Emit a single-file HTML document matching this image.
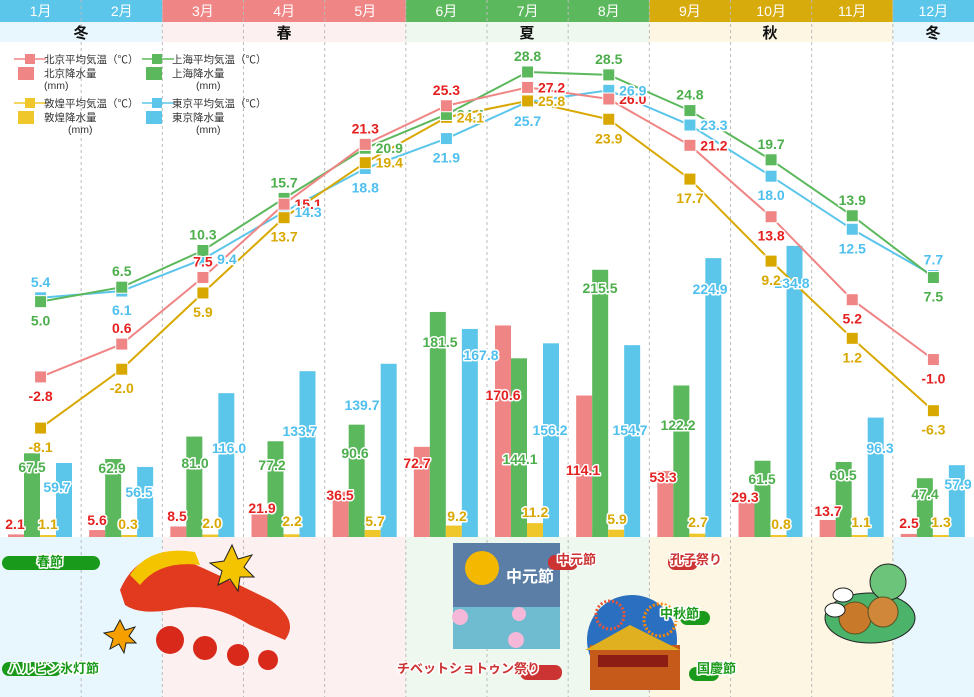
<!DOCTYPE html>
<html><head><meta charset="utf-8">
<style>
html,body{margin:0;padding:0;background:#fff;}
svg{display:block;font-family:"Liberation Sans","Noto Sans CJK JP",sans-serif;}
.t{font-weight:bold;font-size:14px;paint-order:stroke;stroke:#fff;stroke-width:3px;stroke-linejoin:round;text-anchor:middle;}
.lg{font-size:10.5px;fill:#333;}
.mh{font-size:14px;fill:#fff;text-anchor:middle;}
.se{font-size:15px;font-weight:bold;fill:#111;text-anchor:middle;}
.ev{font-size:13px;font-weight:bold;paint-order:stroke;stroke:#fff;stroke-width:3px;stroke-linejoin:round;}
</style></head>
<body>
<svg id="c" width="974" height="697" viewBox="0 0 974 697" xmlns="http://www.w3.org/2000/svg">
<!-- header -->
<rect x="0" y="0" width="162.3" height="22" fill="#5bc5ea"/>
<rect x="162.3" y="0" width="243.5" height="22" fill="#f08585"/>
<rect x="405.8" y="0" width="243.5" height="22" fill="#5cb85c"/>
<rect x="649.3" y="0" width="243.5" height="22" fill="#d8ab0c"/>
<rect x="892.8" y="0" width="81.2" height="22" fill="#5bc5ea"/>
<rect x="0" y="22" width="162.3" height="20" fill="#e8f7fd"/>
<rect x="162.3" y="22" width="243.5" height="20" fill="#fdf0f0"/>
<rect x="405.8" y="22" width="243.5" height="20" fill="#eef8ee"/>
<rect x="649.3" y="22" width="243.5" height="20" fill="#fdf6e2"/>
<rect x="892.8" y="22" width="81.2" height="20" fill="#e8f7fd"/>
<!-- bottom -->
<rect x="0" y="537" width="162.3" height="160" fill="#e8f7fd"/>
<rect x="162.3" y="537" width="243.5" height="160" fill="#fdf0f0"/>
<rect x="405.8" y="537" width="243.5" height="160" fill="#eef8ee"/>
<rect x="649.3" y="537" width="243.5" height="160" fill="#fdf6e2"/>
<rect x="892.8" y="537" width="81.2" height="160" fill="#e8f7fd"/>
<g id="grid"></g>
<text class="mh" x="40.6" y="16">1月</text><text class="mh" x="121.8" y="16">2月</text>
<text class="mh" x="202.9" y="16">3月</text><text class="mh" x="284.1" y="16">4月</text>
<text class="mh" x="365.3" y="16">5月</text><text class="mh" x="446.4" y="16">6月</text>
<text class="mh" x="527.6" y="16">7月</text><text class="mh" x="608.8" y="16">8月</text>
<text class="mh" x="689.9" y="16">9月</text><text class="mh" x="771.1" y="16">10月</text>
<text class="mh" x="852.3" y="16">11月</text><text class="mh" x="933.4" y="16">12月</text>
<text class="se" x="81" y="38">冬</text><text class="se" x="284" y="38">春</text>
<text class="se" x="527" y="38">夏</text><text class="se" x="770" y="38">秋</text>
<text class="se" x="933" y="38">冬</text>
<!-- legend -->
<g>
<line x1="14" y1="59" x2="46" y2="59" stroke="#f08585" stroke-width="1.5"/><rect x="25" y="54" width="10" height="10" fill="#f08585"/>
<text class="lg" x="44" y="63">北京平均気温（℃）</text>
<rect x="18" y="67" width="16" height="13" fill="#f08585"/>
<text class="lg" x="44" y="77">北京降水量</text><text class="lg" x="44" y="89">(mm)</text>
<line x1="142" y1="59" x2="174" y2="59" stroke="#5cb85c" stroke-width="1.5"/><rect x="152" y="54" width="10" height="10" fill="#5cb85c"/>
<text class="lg" x="172" y="63">上海平均気温（℃）</text>
<rect x="146" y="67" width="16" height="13" fill="#5cb85c"/>
<text class="lg" x="172" y="77">上海降水量</text><text class="lg" x="196" y="89">(mm)</text>
<line x1="14" y1="103" x2="46" y2="103" stroke="#f0c72a" stroke-width="1.5"/><rect x="25" y="98" width="10" height="10" fill="#f0c72a"/>
<text class="lg" x="44" y="107">敦煌平均気温（℃）</text>
<rect x="18" y="111" width="16" height="13" fill="#f0c72a"/>
<text class="lg" x="44" y="121">敦煌降水量</text><text class="lg" x="68" y="133">(mm)</text>
<line x1="142" y1="103" x2="174" y2="103" stroke="#5bc5ea" stroke-width="1.5"/><rect x="152" y="98" width="10" height="10" fill="#5bc5ea"/>
<text class="lg" x="172" y="107">東京平均気温（℃）</text>
<rect x="146" y="111" width="16" height="13" fill="#5bc5ea"/>
<text class="lg" x="172" y="121">東京降水量</text><text class="lg" x="196" y="133">(mm)</text>
</g>
<g id="bars"></g>
<g id="lines"></g>
<g id="labels"></g>
<!-- illustrations -->
<g>
<!-- dragon -->
<path d="M120 590 Q140 545 185 560 Q230 580 270 600 Q300 620 285 640 L250 625 Q210 600 170 610 Q140 615 125 605Z" fill="#e23a1e"/>
<path d="M130 575 Q150 545 195 552 L200 565 Q160 560 140 585Z" fill="#f5c400"/>
<circle cx="170" cy="640" r="14" fill="#d8291b"/><circle cx="205" cy="648" r="12" fill="#d8291b"/>
<circle cx="238" cy="655" r="11" fill="#d8291b"/><circle cx="268" cy="660" r="10" fill="#d8291b"/>
<path d="M232 545 l6 14 l14 -4 l-8 12 l10 10 l-14 0 l-2 14 l-8 -12 l-12 6 l4 -14 l-12 -8 l14 -2z" fill="#f5c400" stroke="#222"/>
<path d="M120 620 l5 10 l10 -3 l-6 9 l7 7 l-10 0 l-2 10 l-5 -9 l-9 5 l3 -10 l-9 -6 l10 -2z" fill="#f5a000" stroke="#222"/>
<!-- moon poster -->
<rect x="453" y="543" width="107" height="72" fill="#5a7ea6"/>
<rect x="453" y="607" width="107" height="42" fill="#6fbcd0"/>
<circle cx="482" cy="568" r="17" fill="#f5b800"/>
<text x="530" y="582" fill="#fff" font-size="16" font-weight="bold" text-anchor="middle">中元節</text>
<circle cx="460" cy="617" r="8" fill="#f6b8d8"/><circle cx="516" cy="640" r="8" fill="#f6b8d8"/><circle cx="519" cy="614" r="7" fill="#f6b8d8"/>
<!-- tiananmen -->
<circle cx="632" cy="640" r="45" fill="#2b6fc0"/>
<rect x="590" y="645" width="90" height="45" fill="#c65a1a"/>
<path d="M585 650 L630 625 L680 650Z" fill="#e0b020"/>
<rect x="598" y="655" width="70" height="12" fill="#8b1d14"/>
<circle cx="610" cy="615" r="14" fill="none" stroke="#e53" stroke-width="3" stroke-dasharray="2 2"/>
<circle cx="660" cy="620" r="16" fill="none" stroke="#f80" stroke-width="3" stroke-dasharray="2 2"/>
<!-- teapot -->
<ellipse cx="870" cy="618" rx="45" ry="25" fill="#4bb36a" stroke="#222"/>
<circle cx="888" cy="582" r="18" fill="#6cc47a" stroke="#222"/>
<circle cx="855" cy="618" r="16" fill="#c8792a" stroke="#552"/>
<circle cx="883" cy="612" r="15" fill="#d0873a" stroke="#552"/>
<ellipse cx="843" cy="595" rx="10" ry="7" fill="#fff" stroke="#222"/>
<ellipse cx="835" cy="610" rx="10" ry="7" fill="#fff" stroke="#222"/>
<!-- event labels -->
<rect x="2" y="556" width="98" height="14" rx="7" fill="#1a9a1a"/><text class="ev" x="37" y="566" fill="#1a9a1a">春節</text>
<rect x="2" y="662" width="60" height="14" rx="7" fill="#1a9a1a"/><text class="ev" x="8" y="673" fill="#1a9a1a">ハルビン氷灯節</text>
<rect x="520" y="665" width="42" height="15" rx="7" fill="#cc3333"/><text class="ev" x="397" y="673" fill="#cc3333">チベットショトゥン祭り</text>
<rect x="548" y="555" width="30" height="15" rx="7" fill="#cc3333"/><text class="ev" x="557" y="564" fill="#cc3333">中元節</text>
<rect x="668" y="555" width="30" height="15" rx="7" fill="#cc3333"/><text class="ev" x="670" y="564" fill="#cc3333">孔子祭り</text>
<rect x="680" y="611" width="30" height="14" rx="7" fill="#1a9a1a"/><text class="ev" x="660" y="618" fill="#1a9a1a">中秋節</text>
<rect x="689" y="667" width="30" height="14" rx="7" fill="#1a9a1a"/><text class="ev" x="697" y="673" fill="#1a9a1a">国慶節</text>
</g>
</svg>
<script>
(function(){
var NS="http://www.w3.org/2000/svg",W=974/12;
function el(p,n,a,t){var e=document.createElementNS(NS,n);for(var k in a)e.setAttribute(k,a[k]);if(t!=null)e.textContent=t;document.getElementById(p).appendChild(e);return e;}
for(var i=1;i<12;i++){el("grid","line",{x1:W*i,y1:0,x2:W*i,y2:697,stroke:"#bbb","stroke-width":1,"stroke-dasharray":"3 3"});}
var cols=["#f08585","#5cb85c","#f0c72a","#5bc5ea"];
var tcol=["#e52020","#4cae4c","#d9a800","#4fc0ee"];
var lcol=["#f08585","#5cb85c","#d9a800","#5bc5ea"];
var P=[["2.1","5.6","8.5","21.9","36.5","72.7","170.6","114.1","53.3","29.3","13.7","2.5"],
["67.5","62.9","81.0","77.2","90.6","181.5","144.1","215.5","122.2","61.5","60.5","47.4"],
["1.1","0.3","2.0","2.2","5.7","9.2","11.2","5.9","2.7","0.8","1.1","1.3"],
["59.7","56.5","116.0","133.7","139.7","167.8","156.2","154.7","224.9","234.8","96.3","57.9"]];
var PL=[[[15,524],[97,520],[177,516],[262,508],[340,495],[417,463],[503,395],[583,470],[663,477],[745,497],[828,511],[909,523]],
[[32,467],[112,468],[195,463],[272,465],[355,453],[440,342],[520,459],[600,288],[678,425],[762,479],[843,475],[925,494]],
[[48,524],[128,524],[212,523],[292,521],[375,521],[457,516],[535,512],[617,519],[698,522],[781,524],[861,522],[941,522]],
[[57,487],[139,492],[229,448],[300,431],[362,405],[481,355],[550,430],[630,430],[710,289],[792,283],[880,448],[958,484]]];
// colored stripe at bottom of chart
for(var i=0;i<12;i++)for(var s=0;s<4;s++){var L=W*i+8+16*s;el("bars","rect",{x:L,y:535,width:16,height:2,fill:cols[s]});}
for(var s=0;s<4;s++)for(var i=0;i<12;i++){
 var v=parseFloat(P[s][i]),h=v*1.24,L=W*i+8+16*s;
 el("bars","rect",{x:L,y:537-h,width:16,height:h,fill:cols[s]});
 el("labels","text",{"class":"t",x:PL[s][i][0],y:PL[s][i][1]+5,fill:tcol[s]},P[s][i]);
}
var T=[["-2.8","0.6","7.5","15.1","21.3","25.3","27.2","26.0","21.2","13.8","5.2","-1.0"],
["5.0","6.5","10.3","15.7","20.9","24.4","28.8","28.5","24.8","19.7","13.9","7.5"],
["-8.1","-2.0","5.9","13.7","19.4","24.1","25.8","23.9","17.7","9.2","1.2","-6.3"],
["5.4","6.1","9.4","14.3","18.8","21.9","25.7","26.9","23.3","18.0","12.5","7.7"]];
var POS=["baaraarrrbbb","baaarraaaaab","bbbbrrrbbbbb","abrrbbbrrbba"];
var order=[3,2,1,0];
order.forEach(function(s){
 var pts=[];for(var i=0;i<12;i++){pts.push([W*(i+0.5),349.9-9.65*parseFloat(T[s][i])]);}
 el("lines","polyline",{points:pts.map(function(p){return p.join(",")}).join(" "),fill:"none",stroke:lcol[s],"stroke-width":2});
 pts.forEach(function(p){el("lines","rect",{x:p[0]-6,y:p[1]-6,width:12,height:12,fill:lcol[s],stroke:"#fff","stroke-width":1});});
});
for(var s=0;s<4;s++)for(var i=0;i<12;i++){
 var x=W*(i+0.5),y=349.9-9.65*parseFloat(T[s][i]),c=POS[s][i],lx=x,ly;
 if(c=="a")ly=y-11;else if(c=="b")ly=y+24;else{lx=x+24;ly=y+5;}
 el("labels","text",{"class":"t",x:lx,y:ly,fill:tcol[s]},T[s][i]);
}
})();
</script>
</body></html>
